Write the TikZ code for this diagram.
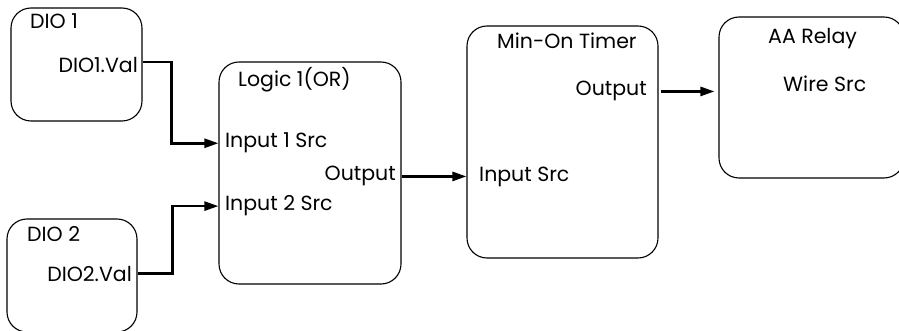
\documentclass[tikz,border=0pt]{standalone}
\usepackage{fontspec}
\setmainfont{Poppins}
\usetikzlibrary{arrows.meta, positioning, calc}

\begin{document}
\begin{tikzpicture}[
    x=1pt, y=-1pt,
    font=\fontsize{20.5}{23}\selectfont,
    blok/.style={draw, line width=1.1pt, rounded corners=20pt, inner sep=0pt},
    kiri/.style={anchor=base west, inner sep=0pt},
    kanan/.style={anchor=base east, inner sep=0pt},
    kabel/.style={line width=2.5pt, -{Triangle[length=14pt, width=9pt]}}
  ]
  \useasboundingbox (0,0) rectangle (899,331);
  % blocks
  \node[blok, minimum width=131pt, minimum height=113pt] (dio1)  at (76.5,64.5)  {};
  \node[blok, minimum width=130pt, minimum height=113pt] (dio2)  at (72,275.5)   {};
  \node[blok, minimum width=182pt, minimum height=222pt] (logic) at (310,173)    {};
  \node[blok, minimum width=191pt, minimum height=232pt] (timer) at (562.5,142)  {};
  \node[blok, minimum width=185pt, minimum height=161pt] (relay) at (811.5,97.5) {};
  % labels
  \node[kiri]  (t1)   at (30,29)   {DIO 1};
  \node[kanan] (v1)   at (138,73)  {DIO1.Val};
  \node[kiri]  (t2)   at (27,241)  {DIO 2};
  \node[kanan] (v2)   at (132,281) {DIO2.Val};
  \node[kiri]  (t3)   at (238,87)  {Logic 1(OR)};
  \node[kiri]  (in1)  at (225,148) {Input 1 Src};
  \node[kanan] (out1) at (396,181) {Output};
  \node[kiri]  (in2)  at (225,211) {Input 2 Src};
  \node[kiri]  (t4)   at (497,49)  {Min-On Timer};
  \node[kanan] (out2) at (647,96)  {Output};
  \node[kiri]  (in3)  at (479,182) {Input Src};
  \node[kiri]  (t5)   at (768,44)  {AA Relay};
  \node[kiri]  (ws)   at (783,92)  {Wire Src};
  % wires
  \draw[kabel] ([yshift=2.5pt]dio1.east) -- ++(29,0) |- (logic.west |- in1.west);
  \draw[kabel] (dio2.east |- v2.west) -- ++(35,0) |- (logic.west |- in2.west);
  \draw[kabel] (logic.east |- out1.east) -- (timer.west |- out1.east);
  \draw[kabel] ([xshift=2pt]timer.east |- out2.east) -- ([xshift=-4pt]relay.west |- out2.east);
\end{tikzpicture}
\end{document}
